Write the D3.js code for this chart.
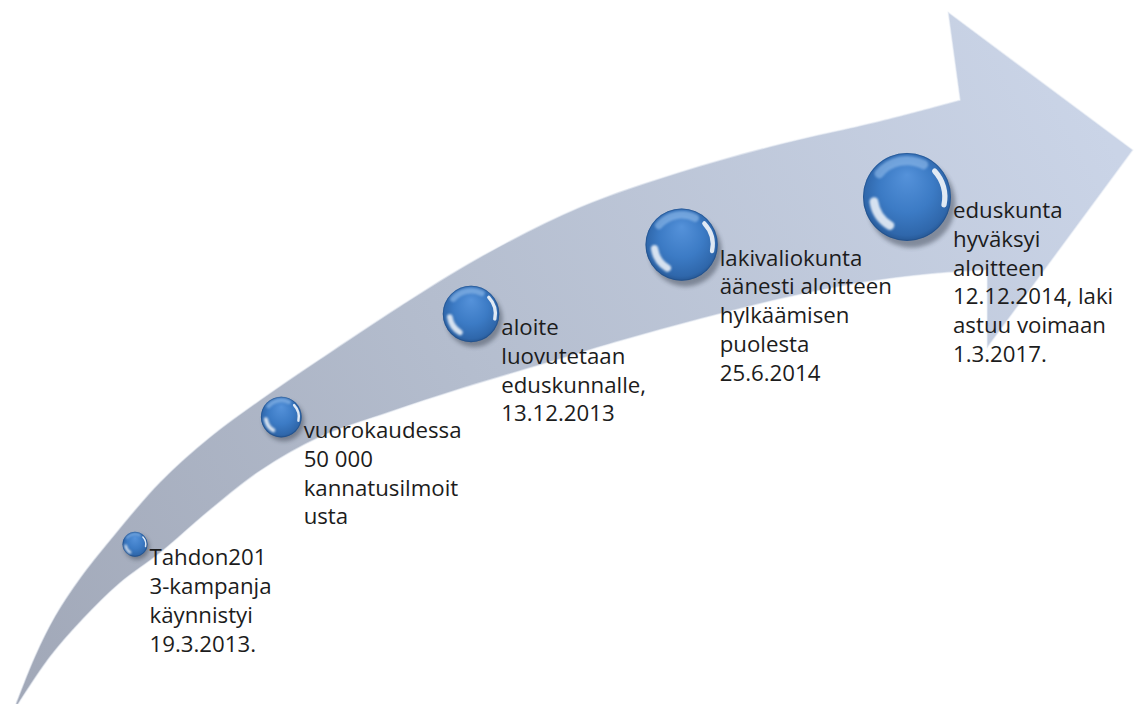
<!DOCTYPE html>
<html><head><meta charset="utf-8">
<script src="https://cdn.jsdelivr.net/npm/d3@7"></script>
<style>html,body{margin:0;padding:0;background:#fff;overflow:hidden}</style>
</head><body>
<svg id="chart" width="1141" height="704"></svg>
<script>
// ---------------- DATA ----------------
const events = ["kampanja", "vuorokausi", "luovutus", "lakivaliokunta", "hyvaksynta"];
const eventDates = ["19.3.2013", "20.3.2013", "13.12.2013", "25.6.2014", "12.12.2014"];
const labelLines = [
  ["Tahdon201", "3-kampanja", "käynnistyi", "19.3.2013."],
  ["vuorokaudessa", "50 000", "kannatusilmoit", "usta"],
  ["aloite", "luovutetaan", "eduskunnalle,", "13.12.2013"],
  ["lakivaliokunta", "äänesti aloitteen", "hylkäämisen", "puolesta", "25.6.2014"],
  ["eduskunta", "hyväksyi", "aloitteen", "12.12.2014, laki", "astuu voimaan", "1.3.2017."]
];

// ---------------- LAYOUT (arrow outline guide) ----------------
const upperEdge = [[15,706],[35,656],[55,616],[80,578],[110,540],[160,482],[210,437],[260,400],[320,359],[400,306],[480,257],[580,207],[680,172],[780,144],[880,121],[960,100]];
const lowerEdge = [[17,706],[50,657],[83,619],[120,583],[160,553],[210,510],[260,471],[320,437],[390,412],[460,389],[540,365],[620,341],[700,319],[780,299],[860,283],[930,274],[987,270]];
const headPts = [[948,12],[1133,150],[987,348]];

const svg = d3.select("#chart");
const defs = svg.append("defs");

// arrow gradient
const ag = defs.append("linearGradient").attr("id","arrowGrad")
  .attr("gradientUnits","userSpaceOnUse").attr("x1",20).attr("y1",700).attr("x2",1100).attr("y2",120);
ag.append("stop").attr("offset",0).attr("stop-color","#a1a8b8");
ag.append("stop").attr("offset",0.45).attr("stop-color","#b4bdce");
ag.append("stop").attr("offset",1).attr("stop-color","#cad4e7");

// ball gradient
const bg = defs.append("radialGradient").attr("id","ballGrad")
  .attr("cx","50%").attr("cy","48%").attr("r","55%").attr("fx","50%").attr("fy","25%");
bg.append("stop").attr("offset",0).attr("stop-color","#5592da");
bg.append("stop").attr("offset",0.55).attr("stop-color","#3c7bc5");
bg.append("stop").attr("offset",0.88).attr("stop-color","#2f67ab");
bg.append("stop").attr("offset",1).attr("stop-color","#22508a");

const blur = defs.append("filter").attr("id","blur").attr("x","-50%").attr("y","-50%").attr("width","200%").attr("height","200%");
blur.append("feGaussianBlur").attr("stdDeviation",2);
const blurS = defs.append("filter").attr("id","blurS").attr("x","-50%").attr("y","-50%").attr("width","200%").attr("height","200%");
blurS.append("feGaussianBlur").attr("stdDeviation",0.8);

const edgeLine = d3.line().curve(d3.curveCatmullRom.alpha(0.5));
const upperD = edgeLine(upperEdge);
const lowerRevD = edgeLine(lowerEdge.slice().reverse());
const arrowD = upperD + " L" + headPts.map(p => p.join(",")).join(" L") + " " + lowerRevD.replace(/^M/, "L") + " Z";

svg.append("path").attr("d", arrowD).attr("fill","url(#arrowGrad)")
  .attr("stroke","#eef2f8").attr("stroke-opacity",0.55).attr("stroke-width",1.5).attr("stroke-linejoin","round");

// hidden guide paths to read the band at any x
const guide = svg.append("g").attr("visibility","hidden");
function sampler(d) {
  const node = guide.append("path").attr("d", d).node();
  const L = node.getTotalLength();
  const pts = d3.range(0, 601).map(i => { const p = node.getPointAtLength(L * i / 600); return [p.x, p.y]; })
    .sort((a, b) => a[0] - b[0]);
  const bis = d3.bisector(p => p[0]).left;
  return x => {
    let i = Math.max(1, Math.min(pts.length - 1, bis(pts, x)));
    const a = pts[i - 1], b = pts[i];
    const t = b[0] === a[0] ? 0 : (x - a[0]) / (b[0] - a[0]);
    return a[1] + t * (b[1] - a[1]);
  };
}
const upperY = sampler(upperD);
const lowerY = sampler(edgeLine(lowerEdge));

// scales for the milestones
const idx = d3.scaleOrdinal().domain(events).range(d3.range(events.length));
const xScale = d3.scalePow().exponent(1.2).domain([0, events.length - 1]).range([135, 907]);
const rScale = d3.scaleLinear().domain([0, events.length - 1]).range([12.5, 44]);
// where across the band each milestone sits (0 = upper edge, 1 = lower edge)
const bandPos = d3.scaleLinear().domain([0, 1, 2, 3, 4]).range([0.56, 0.44, 0.42, 0.48, 0.51]);

const nodes = events.map((e, i) => {
  const cx = xScale(idx(e));
  const cy = upperY(cx) + bandPos(i) * (lowerY(cx) - upperY(cx));
  return { id: e, date: eventDates[i], lines: labelLines[i], cx, cy, r: rScale(idx(e)) };
});

// font size fit
const FONT = "'Open Sans', 'DejaVu Sans', sans-serif";
const probe = svg.append("text").attr("font-family", FONT).attr("font-size", 20).text("vuorokaudessa");
const fs = 20 * 158 / probe.node().getComputedTextLength();
probe.remove();
const lineH = 28.8;

// balls
const ball = svg.selectAll("g.ball").data(nodes).join("g").attr("class","ball")
  .attr("transform", d => `translate(${d.cx},${d.cy})`);
ball.append("circle").attr("cx", d => d.r * 0.08 + 1).attr("cy", d => d.r * 0.12 + 1.5).attr("r", d => d.r)
  .attr("fill", "#333a48").attr("opacity", 0.45).attr("filter", "url(#blur)");
ball.append("circle").attr("r", d => d.r).attr("fill", "url(#ballGrad)");
ball.append("circle").attr("r", d => d.r - 0.5).attr("fill","none").attr("stroke","#1e4a82").attr("stroke-opacity",0.5);
// top soft highlight
ball.append("path").attr("d", d => d3.arc().innerRadius(d.r * 0.72).outerRadius(d.r * 0.93).startAngle(-1.0).endAngle(0.6).cornerRadius(d.r * 0.1)())
  .attr("fill", "#9cc4f0").attr("opacity", 0.55).attr("filter","url(#blurS)");
// upper-right bright streak
ball.append("path").attr("d", d => d3.arc().innerRadius(d.r * 0.8).outerRadius(d.r * 0.92).startAngle(0.75).endAngle(1.85).cornerRadius(d.r * 0.06)())
  .attr("fill", "#ffffff").attr("opacity", 0.85);
// lower-left crescent
ball.append("path").attr("d", d => d3.arc().innerRadius(d.r * 0.66).outerRadius(d.r * 0.86).startAngle(3.55).endAngle(4.7).cornerRadius(d.r * 0.1)())
  .attr("fill", "#ffffff").attr("opacity", 0.8).attr("filter","url(#blurS)");

// labels
const label = svg.selectAll("text.lbl").data(nodes).join("text").attr("class","lbl")
  .attr("font-family", FONT).attr("font-size", fs).attr("fill", "#1c1c1c")
  .attr("transform", d => `translate(${d.cx + d.r + 2},${d.cy + 21})`);
label.selectAll("tspan").data(d => d.lines).join("tspan")
  .attr("x", 0).attr("y", (s, i) => i * lineH).text(s => s);
</script>
</body></html>
